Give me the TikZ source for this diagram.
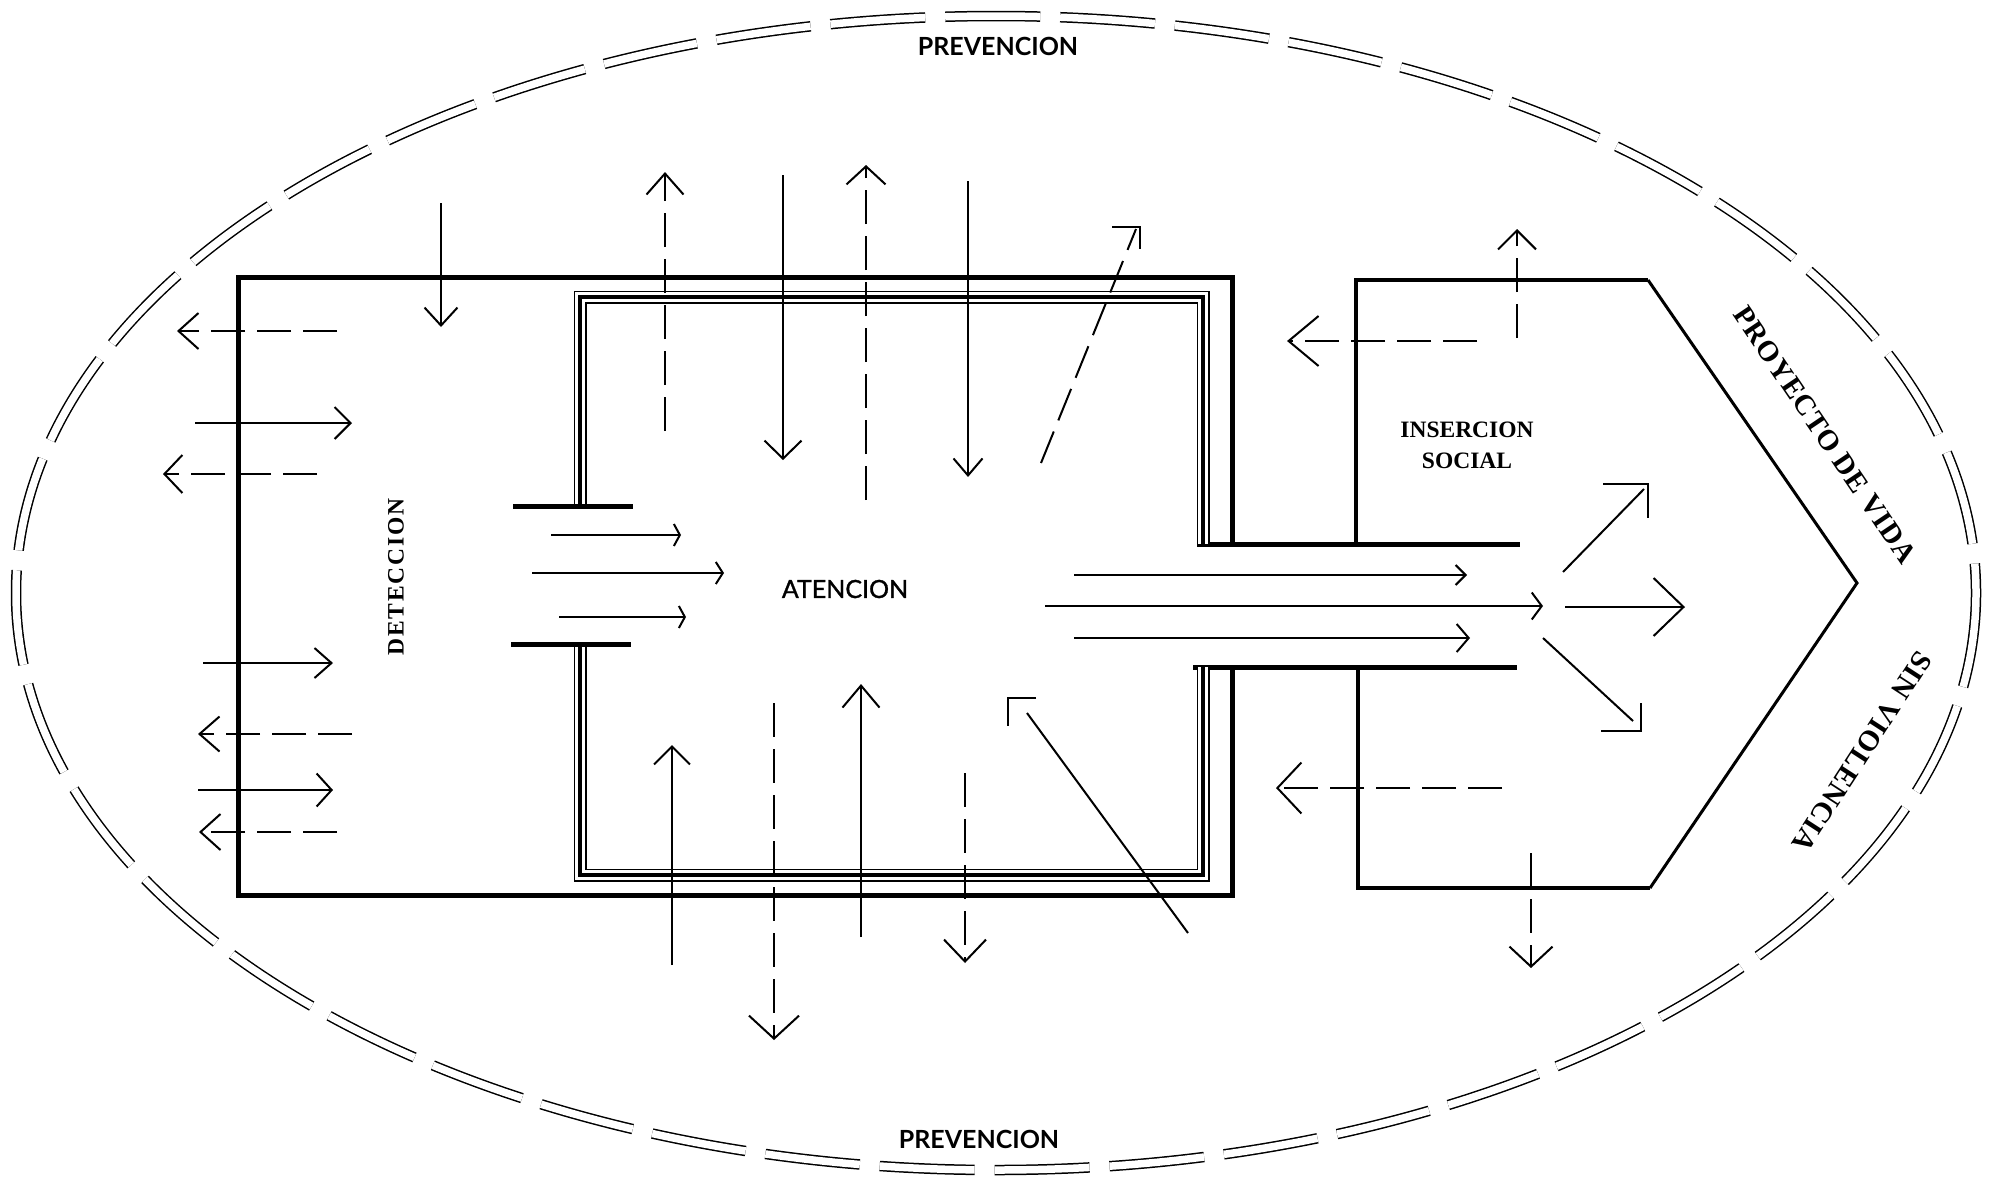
\documentclass[tikz,border=0pt]{standalone}
\usepackage{fontspec}
\setmainfont{Liberation Serif}
\newfontfamily\sansf{Lato}
\newfontfamily\sansmed[FakeBold=1.2]{Lato}
\newfontfamily\spacedserif[LetterSpace=8]{Liberation Serif}
\newfontfamily\widesserif[LetterSpace=3]{Liberation Serif}
\usetikzlibrary{arrows.meta}
\tikzset{
  arr/.style={line width=2pt},
  dsh/.style={dash pattern=on 34pt off 12pt},
  hd/.style 2 args={-{Straight Barb[length=#1pt,width=#2pt,line width=2pt]}},
  wall/.style={line width=5pt, line cap=butt, line join=miter},
  pent/.style={line width=4.5pt, line join=miter},
  pentdiag/.style={line width=3pt},
  roomdbl/.style={line width=1.5pt, double distance=10pt, line join=miter},
  roomcore/.style={line width=4.5pt, line join=miter},
  ell/.style={line width=1.5pt, double distance=7.5pt, dash pattern=on 95pt off 20pt},
  lbl/.style={inner sep=0pt, text=black},
}
\begin{document}
\begin{tikzpicture}[x=1pt,y=-1pt]
\useasboundingbox[fill=white] (0,0) rectangle (1993,1179);

% outer ellipse (double dashed)
\draw[ell] (996,593) ellipse [x radius=980, y radius=577];

% labels on ellipse
\node[lbl, font=\sansf\bfseries\fontsize{25}{30}\selectfont] (prevtop) at (998,46) {PREVENCION};
\node[lbl, font=\sansf\bfseries\fontsize{25}{30}\selectfont] (prevbot) at (979,1139) {PREVENCION};
\node[lbl, font=\widesserif\bfseries\fontsize{29}{32}\selectfont, rotate=-56] (proy) at (1825,435) {PROYECTO DE VIDA};
\node[lbl, font=\widesserif\bfseries\fontsize{29}{32}\selectfont, rotate=-123] (sinv) at (1862,752) {SIN VIOLENCIA};

% outer detection box
\draw[wall] (1232,544) -- (1232,277) -- (238,277) -- (238,895) -- (1232,895) -- (1232,667);
% corridor
\draw[wall] (1197,544) -- (1520,544);
\draw[wall] (1193,667) -- (1517,667);
% pentagon (insercion social)
\draw[pent] (1356,544) -- (1356,280) -- (1648,280);
\draw[pentdiag] (1648,280) -- (1857,583) -- (1650,888);
\draw[pent] (1650,888) -- (1358,888) -- (1358,667);

% inner room (triple wall)
\draw[roomdbl] (580,506) -- (580,297) -- (1203,297) -- (1203,544);
\draw[roomcore] (580,506) -- (580,297) -- (1203,297) -- (1203,544);
\draw[roomdbl] (580,644) -- (580,875) -- (1203,875) -- (1203,667);
\draw[roomcore] (580,644) -- (580,875) -- (1203,875) -- (1203,667);
% door bars
\draw[wall] (513,506) -- (633,506);
\draw[wall] (511,644) -- (631,644);

% texts
\node[lbl, font=\spacedserif\bfseries\fontsize{23.5}{26}\selectfont, rotate=90] (det) at (396,577) {DETECCION};
\node[lbl, font=\sansmed\fontsize{25}{30}\selectfont] (aten) at (845,589) {ATENCION};
\node[lbl, font=\bfseries\fontsize{23.5}{31}\selectfont, align=center] (ins) at (1467,445) {INSERCION\\SOCIAL};

% left side arrows
\draw[arr, dsh, hd={20}{36}] (337,331) -- (177,331);
\draw[arr, hd={16}{32}] (195,423) -- (352,423);
\draw[arr, dsh, hd={18}{38}] (317,474) -- (163,474);
\draw[arr, hd={17}{30}] (203,663) -- (333,663);
\draw[arr, dsh, hd={20}{35}] (352,734) -- (198,734);
\draw[arr, hd={15}{33}] (198,790) -- (333,790);
\draw[arr, dsh, hd={20}{36}] (337,832) -- (199,832);

% top arrows
\draw[arr, hd={18}{33}] (441,203) -- (441,327);
\draw[arr, dsh, hd={21}{37}] (665,431) -- (665,172);
\draw[arr, hd={18}{37}] (783,175) -- (783,460);
\draw[arr, dsh, hd={18}{39}] (866,500) -- (866,165);
\draw[arr, hd={17}{29}] (968,181) -- (968,477);
\draw[arr, dsh] (1041,463) -- (1136,229);
\draw[arr] (1112,227) -- (1140,227) -- (1140,249);

% top right arrows
\draw[arr, dsh, hd={19}{38}] (1517,338) -- (1517,229);
\draw[arr, dsh, hd={30}{50}] (1477,341) -- (1287,341);

% corridor arrows
\draw[arr, hd={10}{20}] (1074,575) -- (1467,575);
\draw[arr, hd={10}{27}] (1045,606) -- (1543,606);
\draw[arr, hd={12}{28}] (1074,638) -- (1470,638);
\draw[arr, hd={30}{58}] (1565,607) -- (1685,607);
\draw[arr] (1563,572) -- (1644,489);
\draw[arr] (1603,484) -- (1648,484) -- (1648,518);
\draw[arr] (1543,638) -- (1633,721);
\draw[arr] (1641,703) -- (1641,731) -- (1601,731);

% bottom right arrows
\draw[arr, dsh, hd={24}{51}] (1502,788) -- (1276,788);
\draw[arr, dsh, hd={20}{43}] (1531,853) -- (1531,968);

% bottom arrows
\draw[arr, hd={18}{36}] (672,965) -- (672,745);
\draw[arr, dsh, hd={23}{50}] (774,703) -- (774,1040);
\draw[arr, hd={22}{37}] (861,937) -- (861,684);
\draw[arr, dsh, hd={22}{42}] (965,773) -- (965,963);
\draw[arr] (1188,933) -- (1027,713);
\draw[arr] (1036,698) -- (1008,698) -- (1008,726);

% door arrows
\draw[arr, hd={6}{22}] (551,535) -- (681,535);
\draw[arr, hd={7}{22}] (532,573) -- (724,573);
\draw[arr, hd={6}{22}] (559,617) -- (686,617);
\end{tikzpicture}
\end{document}
